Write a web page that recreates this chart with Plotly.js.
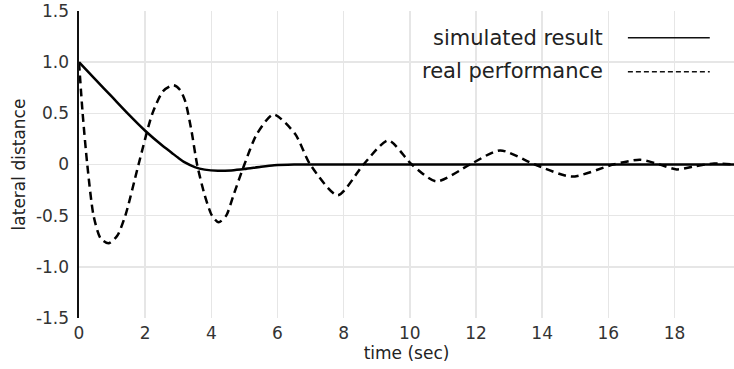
<!DOCTYPE html>
<html>
<head>
<meta charset="utf-8">
<script src="https://cdn.plot.ly/plotly-3.0.1.min.js"></script>
<style>html,body{margin:0;padding:0;background:#fff;}#chart{width:734px;height:369px;}</style>
</head>
<body>
<div id="chart"></div>
<script>
// Simulated result (solid)
const simTime = [0, 0.5, 1.0, 1.5, 2.0, 2.5, 2.8, 3.0, 3.2, 3.5, 3.8, 4.2, 4.6, 5.0, 5.5, 5.9, 6.5, 8, 10, 12, 14, 16, 18, 19.8];
const simValue = [1.0, 0.83, 0.66, 0.49, 0.33, 0.19, 0.115, 0.065, 0.02, -0.025, -0.05, -0.062, -0.058, -0.045, -0.022, -0.007, 0, 0, 0, 0, 0, 0, 0, 0];

// Real performance (dashed)
const realTime = [0, 0.11, 0.25, 0.44, 0.65, 0.89, 1.15, 1.40, 1.80, 2.22, 2.55, 2.86, 3.05, 3.21, 3.4, 3.57, 3.8, 4.02, 4.22, 4.45, 4.67, 5.0, 5.38, 5.88, 6.53, 6.99, 7.82, 8.6, 9.35, 10.06, 10.8, 11.82, 12.73, 13.78, 14.9, 16.15, 16.96, 17.55, 18.07, 18.65, 19.2, 19.8];
const realValue = [1.0, 0.5, 0.0, -0.5, -0.72, -0.77, -0.7, -0.5, 0.0, 0.5, 0.72, 0.775, 0.73, 0.62, 0.33, 0.0, -0.3, -0.5, -0.565, -0.5, -0.3, 0.0, 0.3, 0.49, 0.3, 0.0, -0.30, 0.0, 0.235, 0.0, -0.165, 0.0, 0.138, 0.0, -0.118, 0.0, 0.046, 0.0, -0.048, -0.015, 0.01, 0.0];

const xTicks = [0, 2, 4, 6, 8, 10, 12, 14, 16, 18];
const yTicks = [-1.5, -1.0, -0.5, 0, 0.5, 1.0, 1.5];
const yTickText = ['-1.5', '-1.0', '-0.5', '0', '0.5', '1.0', '1.5'];
const seriesNames = ['simulated result', 'real performance'];

const FONT = 'DejaVu Sans, sans-serif';

const traces = [
  {x: realTime, y: realValue, type: 'scatter', mode: 'lines', name: seriesNames[1],
   line: {color: '#000', width: 2.5, dash: '8px,5px', shape: 'spline', smoothing: 0.7}, showlegend: false},
  {x: simTime, y: simValue, type: 'scatter', mode: 'lines', name: seriesNames[0],
   line: {color: '#000', width: 2.5, shape: 'spline', smoothing: 0.7}, showlegend: false}
];

const layout = {
  width: 734, height: 369,
  margin: {l: 79, r: 0, t: 11, b: 50.5},
  paper_bgcolor: '#fff', plot_bgcolor: '#fff',
  font: {family: FONT, color: '#222'},
  xaxis: {
    range: [0, 19.8], tickvals: xTicks, ticktext: xTicks.map(String),
    showgrid: true, gridcolor: '#e6e6e6', gridwidth: 1.5, zeroline: false, showline: false,
    ticks: '', ticklabelstandoff: 3, tickfont: {size: 17, color: '#333', family: FONT},
    title: {text: 'time (sec)', font: {size: 17, color: '#222', family: FONT}, standoff: 2}
  },
  yaxis: {
    range: [-1.5005, 1.5005], tickvals: yTicks, ticktext: yTickText,
    showgrid: true, gridcolor: '#e6e6e6', gridwidth: 1.5, zeroline: false,
    showline: true, linecolor: '#111', linewidth: 2.5,
    ticks: '', ticklabelstandoff: 4, tickfont: {size: 17, color: '#333', family: FONT},
    title: {text: 'lateral distance', font: {size: 17, color: '#222', family: FONT}, standoff: 6}
  },
  annotations: [
    {xref: 'paper', yref: 'paper', x: 0.803, y: 0.912, xanchor: 'right', yanchor: 'middle',
     text: seriesNames[0], showarrow: false, font: {size: 21, color: '#222', family: FONT}},
    {xref: 'paper', yref: 'paper', x: 0.803, y: 0.805, xanchor: 'right', yanchor: 'middle',
     text: seriesNames[1], showarrow: false, font: {size: 21, color: '#222', family: FONT}}
  ],
  shapes: [
    {type: 'line', xref: 'paper', yref: 'paper', x0: 0.838, x1: 0.963, y0: 0.913, y1: 0.913,
     line: {color: '#111', width: 1.5}},
    {type: 'line', xref: 'paper', yref: 'paper', x0: 0.838, x1: 0.963, y0: 0.802, y1: 0.802,
     line: {color: '#111', width: 1.5, dash: '5px,3px'}}
  ]
};

Plotly.newPlot('chart', traces, layout, {displayModeBar: false, staticPlot: true});
</script>
</body>
</html>
